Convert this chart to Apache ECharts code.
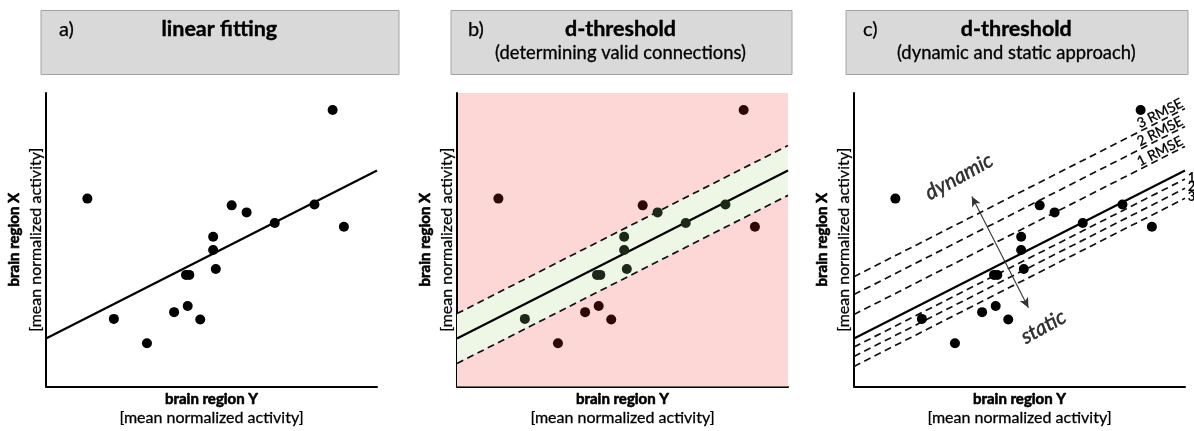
<!DOCTYPE html>
<html><head><meta charset="utf-8">
<script src="https://cdn.jsdelivr.net/npm/echarts@6/dist/echarts.min.js"></script>
<style>html,body{margin:0;padding:0;background:#fff}#c{width:1194px;height:431px}</style>
</head><body><div id="c"></div>
<script>
// ---- data ----
const pointX = [12.5, 86.6, 20.5, 30.5, 38.7, 42.8, 46.6, 42.3, 43.3, 50.5, 50.5, 51.3, 56.1, 60.6, 69.1, 81.1, 90.0];
const pointY = [64.0, 94.2, 23.0, 14.7, 25.3, 27.4, 22.8, 38.0, 38.0, 51.0, 46.5, 40.0, 61.7, 59.3, 55.7, 62.0, 54.4];
const fitX = [0, 100];
const fitY = [16.3, 73.6];
const bandOffset = 8.5;
const dynamicOffsets = [8.2, 15.0, 21.1];
const dynamicLabels = ['1 RMSE', '2 RMSE', '3 RMSE'];
const staticOffsets = [2.9, 6.1, 9.5];
const staticLabels = ['1', '2', '3'];
const arrowX = [35.6, 52.7];
const arrowY = [64.7, 26.8];
const panelLetters = ['a)', 'b)', 'c)'];
const panelTitles = ['linear fitting', 'd-threshold', 'd-threshold'];
const panelSubtitles = ['', '(determining valid connections)', '(dynamic and static approach)'];
const xAxisTitle = 'brain region Y';
const yAxisTitle = 'brain region X';
const unitTitle = '[mean normalized activity]';
const annotDynamic = 'dynamic';
const annotStatic = 'static';

// ---- build ----
const FONT = 'Lato';
const INK = '#000';
const THICK = {textBorderColor: '#000', textBorderWidth: 0.3};
const points = pointX.map((x, i) => [x, pointY[i]]);
const shifted = d => fitX.map((x, i) => [x, fitY[i] + d]);
const fitAt = x => fitY[0] + (fitY[1] - fitY[0]) * (x - fitX[0]) / (fitX[1] - fitX[0]);

const grids = [
  {left: 46, top: 93, width: 331, height: 294},
  {left: 457, top: 93, width: 331, height: 294, show: true, backgroundColor: '#fdd6d6', borderWidth: 0},
  {left: 854, top: 93, width: 331, height: 294}
];

const richName = (lh) => ({
  b: {fontWeight: 'bold', fontSize: 15, lineHeight: lh, fontFamily: FONT, color: INK, textBorderColor: '#000', textBorderWidth: 0.6},
  n: Object.assign({fontSize: 16, lineHeight: lh, fontFamily: FONT, color: INK}, THICK)
});
function xAx(i) {
  return {
    gridIndex: i, type: 'value', min: 0, max: 100,
    axisLine: {show: true, onZero: false, lineStyle: {color: INK, width: 2}},
    axisTick: {show: false}, axisLabel: {show: false}, splitLine: {show: false},
    name: '{b|' + xAxisTitle + '}\n{n|' + unitTitle + '}',
    nameLocation: 'middle', nameGap: 3,
    nameTextStyle: {color: INK, fontFamily: FONT, rich: richName(19)}
  };
}
function yAx(i) {
  return {
    gridIndex: i, type: 'value', min: 0, max: 100,
    axisLine: {show: true, onZero: false, lineStyle: {color: INK, width: 2}},
    axisTick: {show: false}, axisLabel: {show: false}, splitLine: {show: false},
    name: '{b|' + yAxisTitle + '}\n{n|' + unitTitle + '}',
    nameLocation: 'middle', nameGap: 0,
    nameTextStyle: {color: INK, fontFamily: FONT, rich: richName(21)}
  };
}

function fitSeries(i) {
  return {type: 'line', xAxisIndex: i, yAxisIndex: i, data: shifted(0), symbol: 'none',
    lineStyle: {color: INK, width: 2.2}, z: 4, silent: true, animation: false};
}
function scatterSeries(i, colorFn) {
  return {type: 'scatter', xAxisIndex: i, yAxisIndex: i, data: points, symbolSize: 10,
    itemStyle: {color: colorFn || '#000', opacity: 1}, z: 6, animation: false};
}
const dashStyle = {color: '#111', width: 1.7, type: [7, 4.5]};

const series = [];
// panel a
series.push(fitSeries(0), scatterSeries(0));
// panel b
series.push({type: 'line', xAxisIndex: 1, yAxisIndex: 1, data: shifted(bandOffset), symbol: 'none',
  lineStyle: dashStyle, areaStyle: {color: '#eef6e6', opacity: 1, origin: 'start'}, z: 2, animation: false});
series.push({type: 'line', xAxisIndex: 1, yAxisIndex: 1, data: shifted(-bandOffset), symbol: 'none',
  lineStyle: dashStyle, areaStyle: {color: '#fdd6d6', opacity: 1, origin: 'start'}, z: 3, animation: false});
series.push(fitSeries(1));
series.push(scatterSeries(1, p => Math.abs(p.data[1] - fitAt(p.data[0])) <= bandOffset ? '#1c2818' : '#2e0707'));
// panel c
const cLines = [];
dynamicOffsets.forEach((d, k) => cLines.push([
  {coord: [fitX[0], fitY[0] + d], label: Object.assign({show: true, formatter: dynamicLabels[k], position: 'insideEndTop', distance: 0,
    fontSize: 14, color: '#000', fontFamily: FONT}, THICK)},
  {coord: [fitX[1], fitY[1] + d]}]));
staticOffsets.forEach((d, k) => cLines.push([
  {coord: [fitX[0], fitY[0] - d], label: {show: true, formatter: staticLabels[k], position: 'end', distance: 3,
    fontSize: 13, color: '#000', fontFamily: FONT, fontWeight: 'bold'}},
  {coord: [fitX[1], fitY[1] - d]}]));
series.push({type: 'line', xAxisIndex: 2, yAxisIndex: 2, data: [], symbol: 'none', animation: false,
  markLine: {silent: true, symbol: ['none', 'none'], animation: false, lineStyle: dashStyle,
    label: {show: false}, data: cLines}});
series.push(fitSeries(2), scatterSeries(2));
series.push({type: 'line', xAxisIndex: 2, yAxisIndex: 2, data: [], symbol: 'none', animation: false,
  markLine: {silent: true, symbol: ['arrow', 'arrow'], symbolSize: [7, 10], animation: false,
    lineStyle: {color: '#333', width: 1.1, type: 'solid'}, label: {show: false},
    data: [[{coord: [arrowX[0], arrowY[0]]}, {coord: [arrowX[1], arrowY[1]]}]]}});
series.push({type: 'scatter', xAxisIndex: 2, yAxisIndex: 2, symbolSize: 1, silent: true, animation: false,
  itemStyle: {color: 'rgba(0,0,0,0)'}, z: 7,
  label: {show: true, position: 'inside', fontStyle: 'italic', fontSize: 21, fontFamily: FONT, color: INK,
    rotate: 29, formatter: p => p.name, textBorderColor: '#000', textBorderWidth: 0.5},
  data: [{name: annotDynamic, value: [31.7, 71.5]}, {name: annotStatic, value: [57.2, 20.3]}]});

// header boxes (decoration)
const boxes = [[40.5, 358], [450.5, 341], [845.5, 342]];
const titleCx = [219.3, 620.5, 1016.3];
const letterX = [59, 468, 863];
const graphic = [];
boxes.forEach((b, i) => {
  graphic.push({type: 'rect', left: b[0], top: 10, shape: {width: b[1], height: 64},
    style: {fill: '#d9d9d9', stroke: '#a3a3a3', lineWidth: 1}});
  graphic.push({type: 'text', x: letterX[i], y: 30, style: {text: panelLetters[i], fill: INK,
    font: '20px ' + FONT, textAlign: 'left', textVerticalAlign: 'middle', stroke: '#000', lineWidth: 0.25}});
  graphic.push({type: 'text', x: titleCx[i], y: 29.5, style: {text: panelTitles[i], fill: INK,
    font: 'bold 21.5px ' + FONT, textAlign: 'center', textVerticalAlign: 'middle', stroke: '#000', lineWidth: 0.4}});
  if (panelSubtitles[i]) graphic.push({type: 'text', x: titleCx[i], y: 53, style: {text: panelSubtitles[i], fill: INK,
    font: '18.4px ' + FONT, textAlign: 'center', textVerticalAlign: 'middle', stroke: '#000', lineWidth: 0.3}});
});

const chart = echarts.init(document.getElementById('c'), null, {renderer: 'canvas'});
chart.setOption({
  animation: false,
  grid: grids,
  xAxis: [0, 1, 2].map(xAx),
  yAxis: [0, 1, 2].map(yAx),
  series: series,
  graphic: graphic
});
</script></body></html>
